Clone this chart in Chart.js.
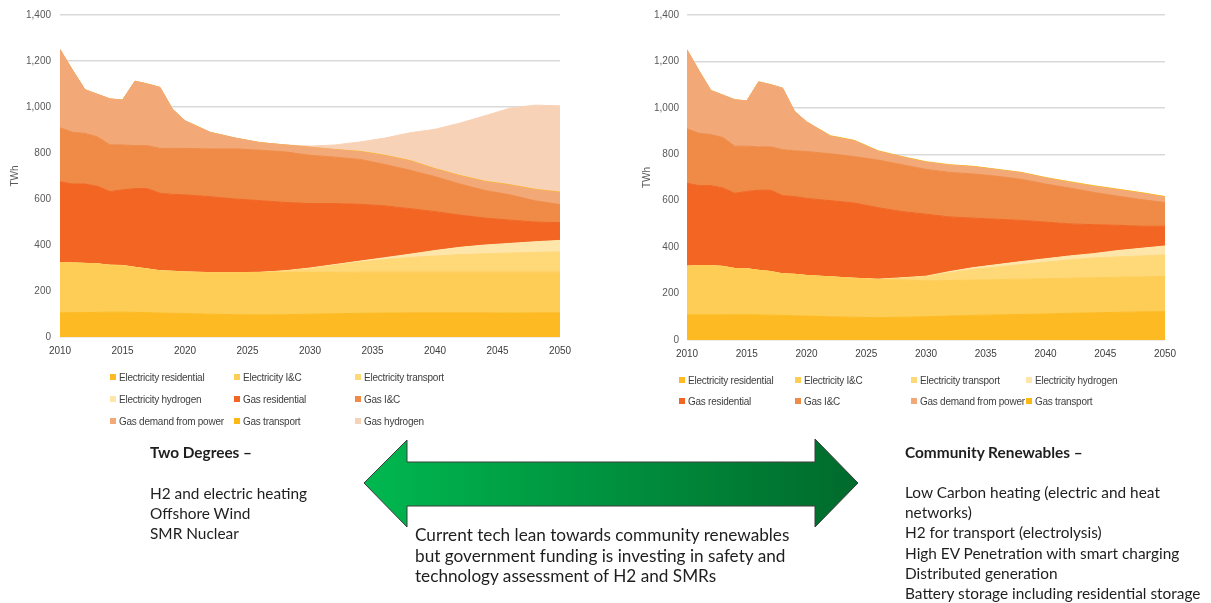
<!DOCTYPE html>
<html>
<head>
<meta charset="utf-8">
<script src="https://cdn.jsdelivr.net/npm/chart.js@4.4.1/dist/chart.umd.min.js"></script>
<style>
  body { margin: 0; background: #fff; width: 1211px; height: 603px; position: relative; overflow: hidden; font-family: 'Liberation Sans', Arial, sans-serif; }
  #left { position: absolute; left: 0; top: 0; }
  #right { position: absolute; left: 627px; top: 0; }
  .lg { position: absolute; font-size: 10px; letter-spacing: -0.25px; color: #404040; white-space: nowrap; display: flex; align-items: center; height: 12px; }
  .lg span.sw { display: inline-block; width: 6px; height: 6px; margin-right: 3px; }
  .note { position: absolute; font-family: Lato, 'Open Sans', sans-serif; color: #1e1e1e; font-size: 15.4px; line-height: 20.2px; white-space: nowrap; }
  .mid { position: absolute; font-family: Lato, 'Open Sans', sans-serif; color: #1e1e1e; font-size: 17.2px; line-height: 20.5px; white-space: nowrap; }
  svg { position: absolute; left: 0; top: 0; }
</style>
</head>
<body>
<canvas id="left" width="580" height="360"></canvas>
<canvas id="right" width="558" height="363"></canvas>
<svg width="1211" height="603">
  <defs>
    <linearGradient id="grn" x1="0" x2="1" y1="0" y2="0">
      <stop offset="0" stop-color="#00b850"/>
      <stop offset="1" stop-color="#006a2c"/>
    </linearGradient>
  </defs>
  <polygon points="364,483 407,440 407,462 815,462 815,439 858,483 815,527 815,506 407,506 407,527" fill="url(#grn)" stroke="#3c3c3c" stroke-width="1"/>
</svg>
<div id="legends"></div>
<div class="note" style="left:150px; top:442px; font-weight:bold;">Two Degrees –</div>
<div class="note" style="left:150px; top:483px;">H2 and electric heating<br>Offshore Wind<br>SMR Nuclear</div>
<div class="note" style="left:905px; top:442px; font-weight:bold;">Community Renewables –</div>
<div class="note" style="left:905px; top:482px;">Low Carbon heating (electric and heat<br>networks)<br>H2 for transport (electrolysis)<br>High EV Penetration with smart charging<br>Distributed generation<br>Battery storage including residential storage</div>
<div class="mid" style="left:415px; top:525px;">Current tech lean towards community renewables<br>but government funding is investing in safety and<br>technology assessment of H2 and SMRs</div>
<script>
// years
const years = [2010, 2011, 2012, 2013, 2014, 2015, 2016, 2017, 2018, 2019, 2020, 2022, 2024, 2026, 2028, 2030, 2032, 2034, 2036, 2038, 2040, 2042, 2044, 2046, 2048, 2050];

const seriesNames = ['Electricity residential', 'Electricity I&C', 'Electricity transport', 'Electricity hydrogen',
  'Gas residential', 'Gas I&C', 'Gas demand from power', 'Gas transport', 'Gas hydrogen'];
const seriesColors = ['#fdba22', '#fecd55', '#ffd878', '#fee6ab', '#f26522', '#ef8b47', '#f2a877', '#fdb913', '#f8d2b6'];

const yTicks = [0, 200, 400, 600, 800, 1000, 1200, 1400];

// Two Degrees (TWh)
const tdElecResidential = [105, 106, 106, 107, 108, 108, 107, 106, 104, 103, 102, 99, 97, 96, 97, 99, 101, 103, 104, 105, 105, 105, 105, 104, 105, 105];
const tdElecIC = [217, 216, 214, 211, 204, 202, 195, 189, 183, 182, 180, 180, 182, 184, 184, 182, 180, 179, 178, 177, 177, 177, 177, 178, 177, 177];
const tdElecTransport = [0, 0, 0, 0, 0, 1, 1, 1, 1, 1, 1, 1, 1, 1, 6, 16, 31, 44, 55, 64, 70, 76, 80, 83, 86, 88];
const tdElecHydrogen = [0, 0, 0, 0, 0, 0, 0, 0, 0, 0, 0, 0, 0, 0, 1, 3, 3, 4, 8, 14, 24, 32, 38, 42, 46, 50];
const tdGasResidential = [353, 343, 345, 337, 320, 329, 342, 349, 337, 334, 335, 330, 320, 312, 297, 280, 265, 247, 225, 198, 169, 140, 117, 101, 86, 77];
const tdGasIC = [235, 225, 220, 215, 203, 195, 187, 187, 195, 200, 202, 208, 218, 219, 220, 210, 202, 195, 180, 167, 152, 135, 120, 110, 92, 79];
const tdGasPower = [340, 270, 190, 185, 200, 195, 280, 268, 265, 170, 120, 72, 47, 33, 30, 35, 33, 33, 38, 40, 33, 35, 38, 42, 48, 52];
const tdGasTransport = [0, 0, 0, 0, 0, 0, 0, 0, 0, 0, 0, 0, 0, 0, 0, 0, 0, 2, 2, 2, 2, 2, 2, 2, 2, 2];
const tdGasHydrogen = [0, 0, 0, 0, 0, 0, 0, 0, 0, 0, 0, 0, 0, 0, 0, 5, 20, 41, 75, 121, 171, 228, 285, 333, 366, 375];

// Community Renewables (TWh)
const crElecResidential = [108, 108, 108, 108, 109, 109, 108, 107, 106, 104, 103, 100, 98, 96, 98, 100, 103, 106, 108, 110, 112, 115, 117, 119, 121, 122];
const crElecIC = [210, 212, 212, 209, 199, 198, 192, 188, 179, 179, 175, 172, 168, 164, 160, 155, 153, 152, 152, 152, 152, 151, 151, 151, 151, 152];
const crElecTransport = [0, 0, 0, 0, 0, 0, 0, 0, 0, 0, 0, 0, 0, 1, 8, 18, 34, 47, 55, 63, 71, 79, 85, 88, 90, 93];
const crElecHydrogen = [0, 0, 0, 0, 0, 0, 0, 0, 0, 0, 0, 0, 0, 1, 2, 2, 5, 7, 10, 13, 15, 17, 19, 27, 33, 38];
const crGasResidential = [357, 345, 345, 338, 324, 333, 345, 350, 337, 335, 332, 328, 324, 308, 285, 267, 235, 213, 195, 177, 158, 138, 125, 109, 95, 85];
const crGasIC = [235, 225, 220, 217, 203, 195, 187, 187, 198, 197, 202, 202, 200, 205, 202, 193, 192, 190, 185, 177, 164, 155, 139, 126, 115, 102];
const crGasPower = [340, 270, 190, 183, 200, 195, 280, 268, 265, 170, 128, 76, 68, 38, 33, 31, 31, 31, 28, 28, 26, 24, 26, 27, 27, 23];
const crGasTransport = [0, 0, 0, 0, 0, 0, 0, 0, 0, 0, 0, 2, 2, 2, 2, 2, 2, 2, 2, 2, 2, 3, 3, 3, 3, 3];

const tdSeries = [tdElecResidential, tdElecIC, tdElecTransport, tdElecHydrogen, tdGasResidential, tdGasIC, tdGasPower, tdGasTransport, tdGasHydrogen];
const crSeries = [crElecResidential, crElecIC, crElecTransport, crElecHydrogen, crGasResidential, crGasIC, crGasPower, crGasTransport];

function makeDatasets(series) {
  return series.map((vals, i) => ({
    label: seriesNames[i],
    data: vals.map((v, j) => ({ x: years[j], y: v })),
    backgroundColor: seriesColors[i],
    borderColor: seriesColors[i],
    borderWidth: 1,
    pointRadius: 0,
    fill: i === 0 ? 'origin' : '-1'
  }));
}

function makeOptions(titleOffset, tickPad) {
  return {
    responsive: false,
    animation: false,
    layout: { padding: { top: 15, right: 20, left: 0, bottom: 0 } },
    plugins: { legend: { display: false }, tooltip: { enabled: false } },
    scales: {
      x: {
        type: 'linear', min: 2010, max: 2050,
        grid: { display: false, drawTicks: false },
        border: { display: false },
        afterFit: s => { s.height = 23; },
        ticks: { stepSize: 5, padding: 8, maxRotation: 0, color: '#404040', font: { family: 'Liberation Sans', size: 10 },
          callback: v => String(v) }
      },
      y: {
        stacked: true, min: 0, max: 1400,
        afterFit: s => { s.width = 60; },
        afterBuildTicks: s => { s.ticks = yTicks.map(v => ({ value: v })); },
        grid: { color: '#d9d9d9', lineWidth: 1.5, drawTicks: false },
        border: { display: false },
        title: { display: true, text: 'TWh', color: '#595959', font: { family: 'Liberation Sans', size: 10 }, padding: { top: titleOffset, bottom: 0 } },
        ticks: { padding: tickPad, color: '#595959', font: { family: 'Liberation Sans', size: 10 },
          callback: v => v.toLocaleString('en-US') }
      }
    }
  };
}

new Chart(document.getElementById('left').getContext('2d'), {
  type: 'line',
  data: { datasets: makeDatasets(tdSeries) },
  options: makeOptions(9, 9)
});

new Chart(document.getElementById('right').getContext('2d'), {
  type: 'line',
  data: { datasets: makeDatasets(crSeries) },
  options: makeOptions(14, 8)
});

// legends as html, built from the same names and colours
function addLegend(count, cols, xs, ys) {
  const box = document.getElementById('legends');
  for (let i = 0; i < count; i++) {
    const d = document.createElement('div');
    d.className = 'lg';
    d.style.left = xs[i % cols] + 'px';
    d.style.top = (ys[Math.floor(i / cols)] - 6) + 'px';
    d.innerHTML = '<span class="sw" style="background:' + seriesColors[i] + '"></span>' + seriesNames[i];
    box.appendChild(d);
  }
}
addLegend(9, 3, [110, 234, 355], [377, 399, 421]);
addLegend(8, 4, [679, 795, 911, 1026], [380, 401]);
</script>
</body>
</html>
